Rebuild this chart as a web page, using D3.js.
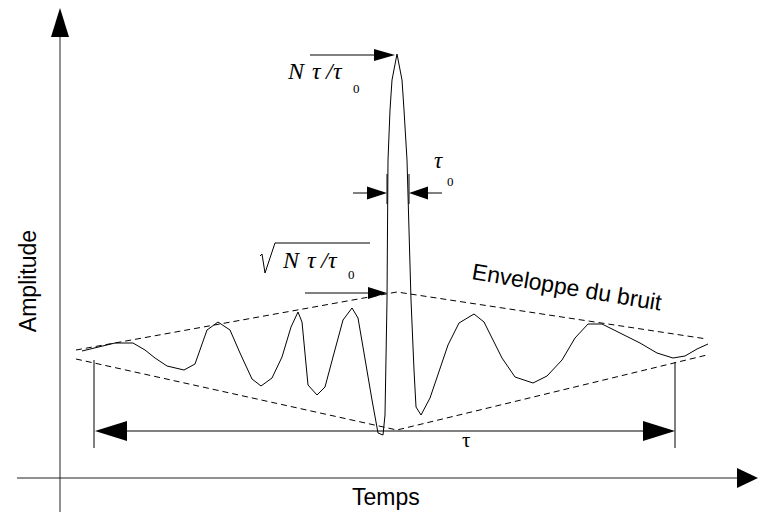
<!DOCTYPE html>
<html><head><meta charset="utf-8">
<script src="https://cdn.jsdelivr.net/npm/d3@7/dist/d3.min.js"></script>
<style>html,body{margin:0;padding:0;background:#fff;}svg{display:block;}</style>
</head><body>
<svg id="chart" width="765" height="519"></svg>
<script>
// ---- data (time units, amplitude units) ----
const sigTime = [2.2,5.5,7.3,8.5,9.5,10.7,12.4,13.5,14.7,15.8,17.0,18.0,19.2,20.1,21.2,22.2,23.1,23.8,24.2,24.8,25.7,26.5,27.3,28.3,29.2,29.8,30.4,31.2,31.8,32.3,32.5,32.7,32.8,33.0,33.2,33.7,34.2,34.4,34.7,34.9,35.1,35.4,35.6,36.1,37.0,38.8,39.9,41.4,42.4,44.2,45.5,47.3,48.7,50.2,51.5,52.8,54.2,56.0,58.0,59.7,61.3,62.5,63.7,64.8];
const sigAmp  = [12.7,13.5,13.5,12.8,12.0,11.2,10.8,11.4,14.8,15.6,14.8,12.5,9.9,9.2,10.0,12.1,15.1,16.6,15.6,9.3,8.3,9.1,12.1,15.8,17.0,16.0,12.5,7.8,4.5,4.3,6.3,17.8,31.8,36.8,39.8,42.4,39.8,36.8,31.8,24.8,17.8,10.8,7.1,6.3,8.0,13.3,15.5,16.4,15.6,12.0,10.1,9.5,10.2,11.8,14.0,15.4,15.4,14.5,13.5,12.5,12.0,12.2,12.9,13.4];
const envTime  = [1.6, 33.7, 64.7];
const envUpper = [12.8, 18.6, 13.9];
const envLower = [11.9, 4.8, 12.3];
const tauStart = 3.4, tauEnd = 61.5, tauLevel = 4.7;
const peakTime = 33.7, peakAmp = 42.4;
const tau0Start = 32.7, tau0End = 34.9, tau0Level = 28.5;
const sqrtLevel = 18.5;
const labels = {y:"Amplitude", x:"Temps", env:"Enveloppe du bruit", tau:"τ"};

// ---- scales ----
const x = d3.scaleLinear().domain([0,70]).range([60,760]);
const y = d3.scaleLinear().domain([0,47]).range([478,8]);
const svg = d3.select("#chart");
const sans = "'Liberation Sans', Arial, sans-serif";
const serif = "'Liberation Serif', 'Times New Roman', serif";

function head(tx, ty, dir, len, half){
  let p;
  if(dir==='r') p=[[tx,ty],[tx-len,ty-half],[tx-len,ty+half]];
  else if(dir==='l') p=[[tx,ty],[tx+len,ty-half],[tx+len,ty+half]];
  else p=[[tx,ty],[tx-half,ty+len],[tx+half,ty+len]];
  svg.append("path").attr("d","M"+p.map(d=>d.join(",")).join("L")+"Z").attr("fill","#000");
}
function line(x1,y1,x2,y2,w,c){
  svg.append("line").attr("x1",x1).attr("y1",y1).attr("x2",x2).attr("y2",y2)
    .attr("stroke",c||"#000").attr("stroke-width",w||1);
}

// axes
line(x(0), y(-3.4), x(0), y(46), 1, "#222");
head(x(0), y(47), 'u', 29, 9);
line(x(-4.3), y(0), x(68.5), y(0), 1, "#222");
head(x(69.8), y(0), 'r', 21, 10);

// envelopes (dashed)
const envLine = d3.line().x(d=>x(d[0])).y(d=>y(d[1]));
svg.append("path").attr("d", envLine(envTime.map((t,i)=>[t,envUpper[i]])))
  .attr("fill","none").attr("stroke","#000").attr("stroke-width",1).attr("stroke-dasharray","6,4");
svg.append("path").attr("d", envLine(envTime.map((t,i)=>[t,envLower[i]])))
  .attr("fill","none").attr("stroke","#000").attr("stroke-width",1).attr("stroke-dasharray","6,4");

// signal
svg.append("path").attr("d", envLine(sigTime.map((t,i)=>[t,sigAmp[i]])))
  .attr("fill","none").attr("stroke","#000").attr("stroke-width",1).attr("stroke-linejoin","round");

// tau dimension
line(x(tauStart), y(11.8), x(tauStart), y(3.0));
line(x(tauEnd), y(11.6), x(tauEnd), y(3.0));
line(x(tauStart)+20, y(tauLevel), x(tauEnd)-20, y(tauLevel));
head(x(tauStart)+1, y(tauLevel), 'l', 32, 10);
head(x(tauEnd), y(tauLevel), 'r', 32, 10);
svg.append("text").attr("x", x(40.2)).attr("y", y(tauLevel)+16)
  .attr("font-family", serif).attr("font-size",21).text(labels.tau);

// tau0 dimension
line(x(tau0Start), y(tau0Level)+11, x(tau0Start), y(tau0Level)-19);
line(x(tau0End), y(tau0Level)+11, x(tau0End), y(tau0Level)-19);
line(x(tau0Start)-34, y(tau0Level), x(tau0Start)-12, y(tau0Level));
line(x(tau0End)+12, y(tau0Level), x(tau0End)+33, y(tau0Level));
head(x(tau0Start), y(tau0Level), 'r', 20, 6.5);
head(x(tau0End), y(tau0Level), 'l', 19, 6.5);
svg.append("text").attr("x",434).attr("y",168).attr("font-family",serif).attr("font-style","italic").attr("font-size",23).text("τ");
svg.append("text").attr("x",447).attr("y",186).attr("font-family",serif).attr("font-size",13).text("0");

// peak arrow
line(x(25.0), y(peakAmp)+1, x(peakTime)-15, y(peakAmp)+1);
head(x(peakTime)-2, y(peakAmp)+1, 'r', 21, 6);
function formula(x0, base, subBase){
  const g = svg.append("g").attr("font-family",serif).attr("font-size",24).attr("font-style","italic");
  g.append("text").attr("x",x0).attr("y",base).text("N");
  g.append("text").attr("x",x0+24).attr("y",base).text("τ");
  g.append("text").attr("x",x0+38).attr("y",base).text("/");
  g.append("text").attr("x",x0+45).attr("y",base).text("τ");
  g.append("text").attr("x",x0+65).attr("y",subBase).attr("font-style","normal").attr("font-size",13).text("0");
}
formula(288, 79, 93);

// sqrt arrow
line(x(24.5), y(sqrtLevel), x(32.7)-15, y(sqrtLevel));
head(x(32.7), y(sqrtLevel), 'r', 19, 6);
formula(283, 268, 279);
svg.append("path").attr("d","M260,256 L262,254 L265,273 L275,243 L370,243")
  .attr("fill","none").attr("stroke","#000").attr("stroke-width",1);

// labels
svg.append("text").attr("transform","translate(36,281) rotate(-90)").attr("text-anchor","middle")
  .attr("font-family",sans).attr("font-size",23).text(labels.y);
svg.append("text").attr("x",352).attr("y",505).attr("font-family",sans).attr("font-size",23).text(labels.x);
svg.append("text").attr("transform","translate(471,279) rotate(9.5)")
  .attr("font-family",sans).attr("font-size",23).text(labels.env);
</script>
</body></html>
